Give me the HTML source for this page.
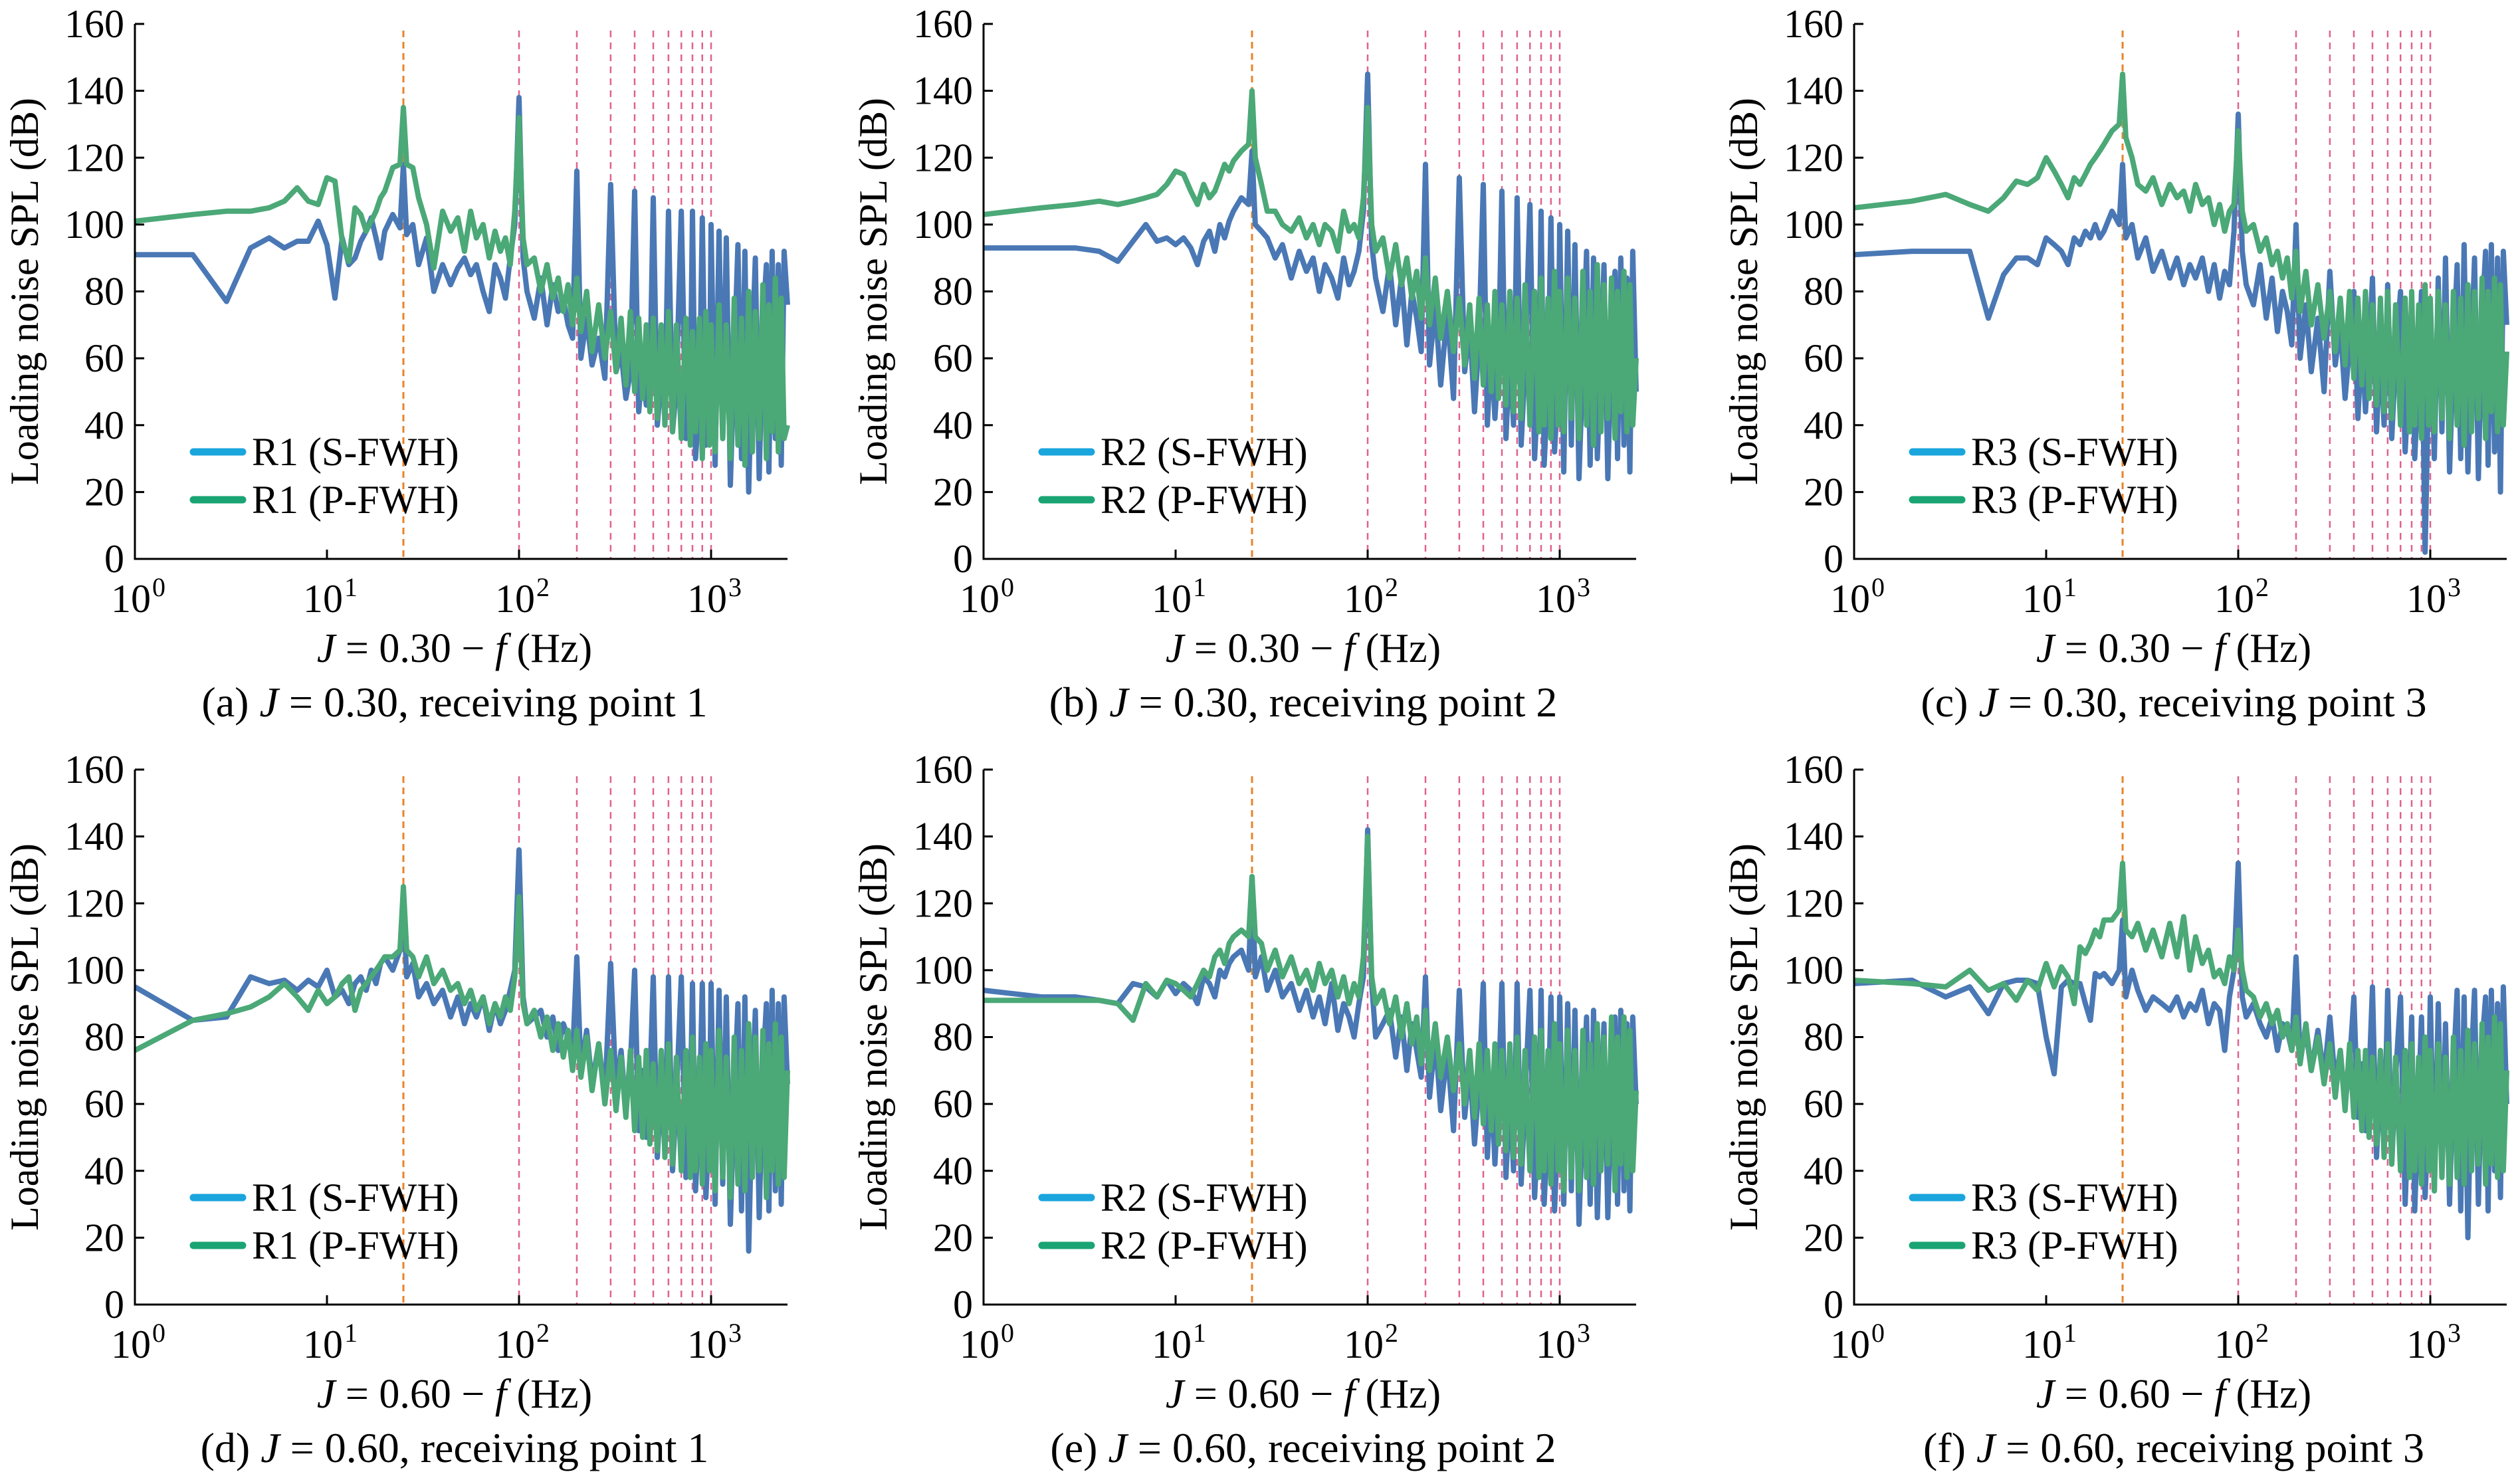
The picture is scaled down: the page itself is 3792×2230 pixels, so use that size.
<!DOCTYPE html>
<html><head><meta charset="utf-8">
<style>
html,body{margin:0;padding:0;background:#fff;}
svg, svg text{font-family:"Liberation Serif","Times New Roman",serif;}
</style></head>
<body>
<svg id="fig" width="3792" height="2225" viewBox="0 0 3792 2225" xmlns="http://www.w3.org/2000/svg" font-family="Liberation Serif, serif"></svg>
<script>
const freqs=[1,2,3,4,5,6,7,8,9,10,11,12,13,14,15,16,17,18,19,20,22,24,25,26,28,30,33,36,40,44,48,52,56,60,65,70,75,80,85,90,95,100,105,110,120,130,140,150,160,170,180,190,200,210,225,240,260,280,300,320,340,360,380,400,420,440,460,480,500,525,550,575,600,630,660,700,740,780,800,830,870,900,940,980,1000,1050,1100,1150,1200,1260,1320,1380,1440,1500,1570,1640,1700,1780,1860,1940,2000,2080,2160,2240,2320,2400,2500];
const yTicks=[0,20,40,60,80,100,120,140,160];
const xTickExps=[0,1,2,3];
const orangeLines=[25];
const pinkLines=[100,200,300,400,500,600,700,800,900,1000];
const sA=[91,91,77,93,96,93,95,95,101,94,78,96,88,90,95,98,102,96,90,98,103,99,118,97,100,88,96,80,88,82,87,90,85,88,80,74,88,84,78,90,100,138,90,80,72,84,70,82,74,78,70,66,116,60,72,58,66,54,112,56,62,48,56,110,44,58,46,52,108,40,54,44,104,38,52,104,36,50,104,30,48,102,34,46,100,28,98,36,96,22,60,94,30,92,20,64,90,24,70,88,26,92,36,88,28,92,76];
const pA=[101,103,104,104,105,107,111,107,106,114,113,95,89,105,103,98,101,104,108,110,117,118,135,118,117,108,100,87,104,98,102,92,104,96,100,90,98,92,96,88,104,132,96,88,90,80,88,78,84,74,82,70,84,68,80,62,76,60,74,56,72,52,74,50,72,48,70,44,72,42,70,40,74,38,70,36,72,34,68,38,72,30,74,34,70,32,76,36,70,30,78,34,72,28,80,32,74,36,82,30,76,38,84,32,78,36,40];
const sB=[93,93,93,92,89,95,100,95,96,94,96,93,88,95,98,92,100,96,101,104,108,106,122,100,98,96,90,94,84,92,86,90,80,88,84,78,90,82,86,92,104,145,94,84,74,88,70,84,64,80,72,62,118,58,76,52,74,48,114,56,70,44,66,112,40,64,42,60,110,36,62,40,108,34,58,106,30,56,104,28,54,102,32,52,100,26,98,34,94,24,58,92,28,90,30,62,88,24,66,86,30,90,34,84,26,92,50];
const pB=[103,105,106,107,106,107,108,109,112,116,115,110,106,112,108,110,114,118,116,119,122,124,140,120,112,104,104,100,98,102,96,100,94,100,98,92,104,98,100,96,108,135,100,92,96,84,94,82,90,78,86,72,90,70,84,66,80,62,78,58,76,54,78,52,76,50,80,48,76,46,80,44,78,42,82,40,80,38,84,40,78,36,86,40,80,38,84,42,78,36,86,40,80,34,88,38,82,42,84,36,80,44,86,38,82,40,60];
const sC=[91,92,92,92,72,85,90,90,88,96,94,92,88,96,94,98,96,100,96,98,104,100,118,96,100,90,96,86,92,84,90,82,88,84,90,80,88,78,86,82,98,133,92,82,76,88,72,84,68,80,74,64,100,60,76,56,72,50,86,58,70,48,64,80,42,66,44,62,84,38,64,40,82,36,60,80,32,58,78,30,56,80,2,54,76,30,84,38,90,26,62,88,30,94,26,64,90,24,72,92,28,94,32,90,20,92,70];
const pC=[105,107,109,106,104,108,113,112,114,120,116,112,108,114,112,115,118,120,122,124,128,130,145,126,120,112,110,114,106,112,108,110,104,112,106,108,100,106,98,104,106,128,104,98,100,92,96,88,92,84,90,78,92,74,86,70,82,66,80,62,78,58,80,54,78,52,80,48,76,46,78,44,80,42,76,40,78,38,80,40,76,36,82,40,78,38,80,42,76,36,80,40,78,34,82,38,80,42,84,36,80,44,84,38,82,40,62];
const sD=[95,85,86,98,96,97,94,97,95,100,92,94,90,96,98,94,100,96,102,104,100,106,120,98,102,92,96,90,94,86,92,84,90,86,92,82,90,84,88,94,100,136,92,84,86,88,80,86,76,84,80,74,104,70,82,66,78,62,102,64,76,58,72,100,52,70,50,66,98,44,66,46,98,40,62,98,38,60,96,34,58,96,32,56,96,30,94,36,92,24,62,90,28,92,16,64,88,26,70,90,28,94,34,90,30,92,66];
const pD=[76,85,87,89,92,96,92,88,94,90,92,96,98,88,94,96,98,100,102,104,104,106,125,106,104,98,104,96,100,94,96,90,94,88,92,84,90,86,92,88,98,122,90,84,88,80,86,76,84,74,82,70,82,68,80,64,78,60,76,58,74,56,76,52,74,50,76,48,72,46,76,44,78,42,74,40,76,38,80,40,74,36,78,40,76,34,82,38,74,32,80,36,76,34,84,38,80,40,82,32,78,40,84,36,80,38,70];
const sE=[94,92,92,91,90,96,95,92,97,93,96,94,90,98,96,92,100,98,102,104,106,100,128,98,104,94,100,92,96,88,94,86,92,84,96,82,90,86,80,90,98,142,96,80,84,88,74,86,70,84,76,68,98,62,80,58,76,52,94,56,72,48,66,96,44,68,42,64,96,38,64,40,96,36,62,94,32,58,94,30,56,92,28,54,92,30,90,34,88,24,58,86,30,88,26,62,84,26,66,86,30,88,34,84,28,86,60];
const pE=[91,91,91,91,90,85,96,92,97,96,94,92,96,100,98,104,106,102,108,110,112,110,128,110,108,100,106,98,104,96,100,94,102,96,100,92,98,90,96,92,104,140,98,90,94,84,92,80,90,78,86,72,88,70,84,68,80,64,78,60,76,56,78,54,76,52,78,48,76,46,78,44,80,42,76,40,80,38,82,40,76,36,84,40,78,34,82,38,76,34,82,38,78,36,84,40,80,42,86,34,80,42,86,38,82,40,64];
const sF=[96,97,92,95,87,96,97,97,96,80,69,95,97,96,96,90,85,99,98,99,96,100,115,92,100,94,88,92,90,88,92,86,90,88,94,84,90,88,76,92,100,132,92,86,90,84,80,86,76,84,82,76,104,74,82,70,82,68,86,66,76,60,72,92,56,72,52,68,95,44,70,46,94,42,68,92,30,66,86,28,62,86,32,60,92,34,90,40,84,30,70,94,28,92,20,74,94,30,78,92,28,94,40,90,32,95,60];
const pF=[97,96,95,100,94,96,91,97,94,102,95,101,98,90,107,105,108,112,110,115,115,118,132,112,110,114,106,112,104,114,104,116,100,110,102,106,98,100,96,104,100,112,100,94,92,86,90,84,88,80,84,76,86,72,84,70,80,66,78,62,76,58,78,56,76,52,76,50,74,48,76,44,78,42,74,40,76,38,78,40,74,36,80,40,76,34,78,38,74,36,80,38,76,36,82,40,78,42,84,36,80,42,86,38,84,40,70];
const panelLetters=['a','b','c','d','e','f'];
const panelJ=['0.30','0.30','0.30','0.60','0.60','0.60'];
const panelR=['1','2','3','1','2','3'];
const sSeries=[sA,sB,sC,sD,sE,sF];
const pSeries=[pA,pB,pC,pD,pE,pF];

const NS='http://www.w3.org/2000/svg';
const svg=document.getElementById('fig');
const FF='Liberation Serif, Times New Roman, serif';
function mk(tag,attrs,parent){const e=document.createElementNS(NS,tag);for(const k in attrs)e.setAttribute(k,attrs[k]);if(tag==='text')e.setAttribute('font-family',FF);(parent||svg).appendChild(e);return e;}
const colX=[203,1480,2790];
const rowY=[[36,841],[1158,1963]];
const DEC=289, AXW=982;

for(let i=0;i<6;i++){
  const x0=colX[i%3], top=rowY[Math.floor(i/3)][0], bot=rowY[Math.floor(i/3)][1];
  const g=mk('g',{});
  
  
  const xs=f=>x0+Math.log10(f)*DEC;
  const ys=v=>bot-(v/160)*(bot-top);
  orangeLines.forEach(f=>{const l=mk('line',{x1:xs(f),x2:xs(f),y1:top+10,y2:bot,stroke:'#e8832a','stroke-width':3,'stroke-dasharray':'10,7'},g);
    
    });
  pinkLines.forEach(f=>{const l=mk('line',{x1:xs(f),x2:xs(f),y1:top+10,y2:bot,stroke:'#e0628e','stroke-width':2.5,'stroke-dasharray':'10,8'},g);
    
    });
  [[sSeries[i],'#4a78b5','s-fwh-line'],[pSeries[i],'#4ba877','p-fwh-line']].forEach(([arr,col,nm])=>{
    const n=Math.min(arr.length,freqs.length);let d='';
    for(let k=0;k<n;k++){d+=(k?'L':'M')+xs(freqs[k]).toFixed(1)+','+ys(arr[k]).toFixed(1);}
    const p=mk('path',{d:d,fill:'none',stroke:col,'stroke-width':8,'stroke-linejoin':'round'},g);
    
    
  });
  const ax=mk('path',{d:`M${x0},${top}V${bot}H${x0+AXW}`,fill:'none',stroke:'#000','stroke-width':3},g);
  
  
  yTicks.forEach(v=>{
    mk('line',{x1:x0,x2:x0+14,y1:ys(v),y2:ys(v),stroke:'#000','stroke-width':3},g);
    const t=mk('text',{x:x0-16,y:ys(v)+20,'text-anchor':'end','font-size':60},g);t.textContent=v;
    
    
  });
  xTickExps.forEach(e=>{
    const x=x0+e*DEC;
    mk('line',{x1:x,x2:x,y1:bot,y2:bot-14,stroke:'#000','stroke-width':3},g);
    const t=mk('text',{x:x-6,y:bot+80,'text-anchor':'middle','font-size':60},g);t.textContent='10';
    
    
    const s=mk('text',{x:x+26,y:bot+56,'font-size':40},g);s.textContent=e;
  });
  const yt=mk('text',{x:0,y:0,'text-anchor':'middle','font-size':60,transform:`translate(${x0-146},${(top+bot)/2}) rotate(-90)`},g);
  yt.textContent='Loading noise SPL (dB)';
  
  
  const cx=x0+AXW/2-10;
  const xt=mk('text',{x:cx,y:bot+155,'text-anchor':'middle','font-size':62},g);
  xt.innerHTML=`<tspan font-style="italic">J</tspan> = ${panelJ[i]} − <tspan font-style="italic">f</tspan> (Hz)`;
  
  
  const cp=mk('text',{x:cx,y:bot+237,'text-anchor':'middle','font-size':64},g);
  cp.innerHTML=`(${panelLetters[i]}) <tspan font-style="italic">J</tspan> = ${panelJ[i]}, receiving point ${panelR[i]}`;
  
  
  const ly1=top+(680-36), ly2=top+(752-36);
  [[ly1,'#1ba5dd',`R${panelR[i]} (S-FWH)`],[ly2,'#1aa474',`R${panelR[i]} (P-FWH)`]].forEach(([ly,col,txt])=>{
    const lg=mk('g',{},g);
    
    
    mk('line',{x1:x0+88,x2:x0+162,y1:ly,y2:ly,stroke:col,'stroke-width':11,'stroke-linecap':'round'},lg);
    const t=mk('text',{x:x0+176,y:ly+20,'font-size':60},lg);t.textContent=txt;
  });
}
</script>
</body></html>
